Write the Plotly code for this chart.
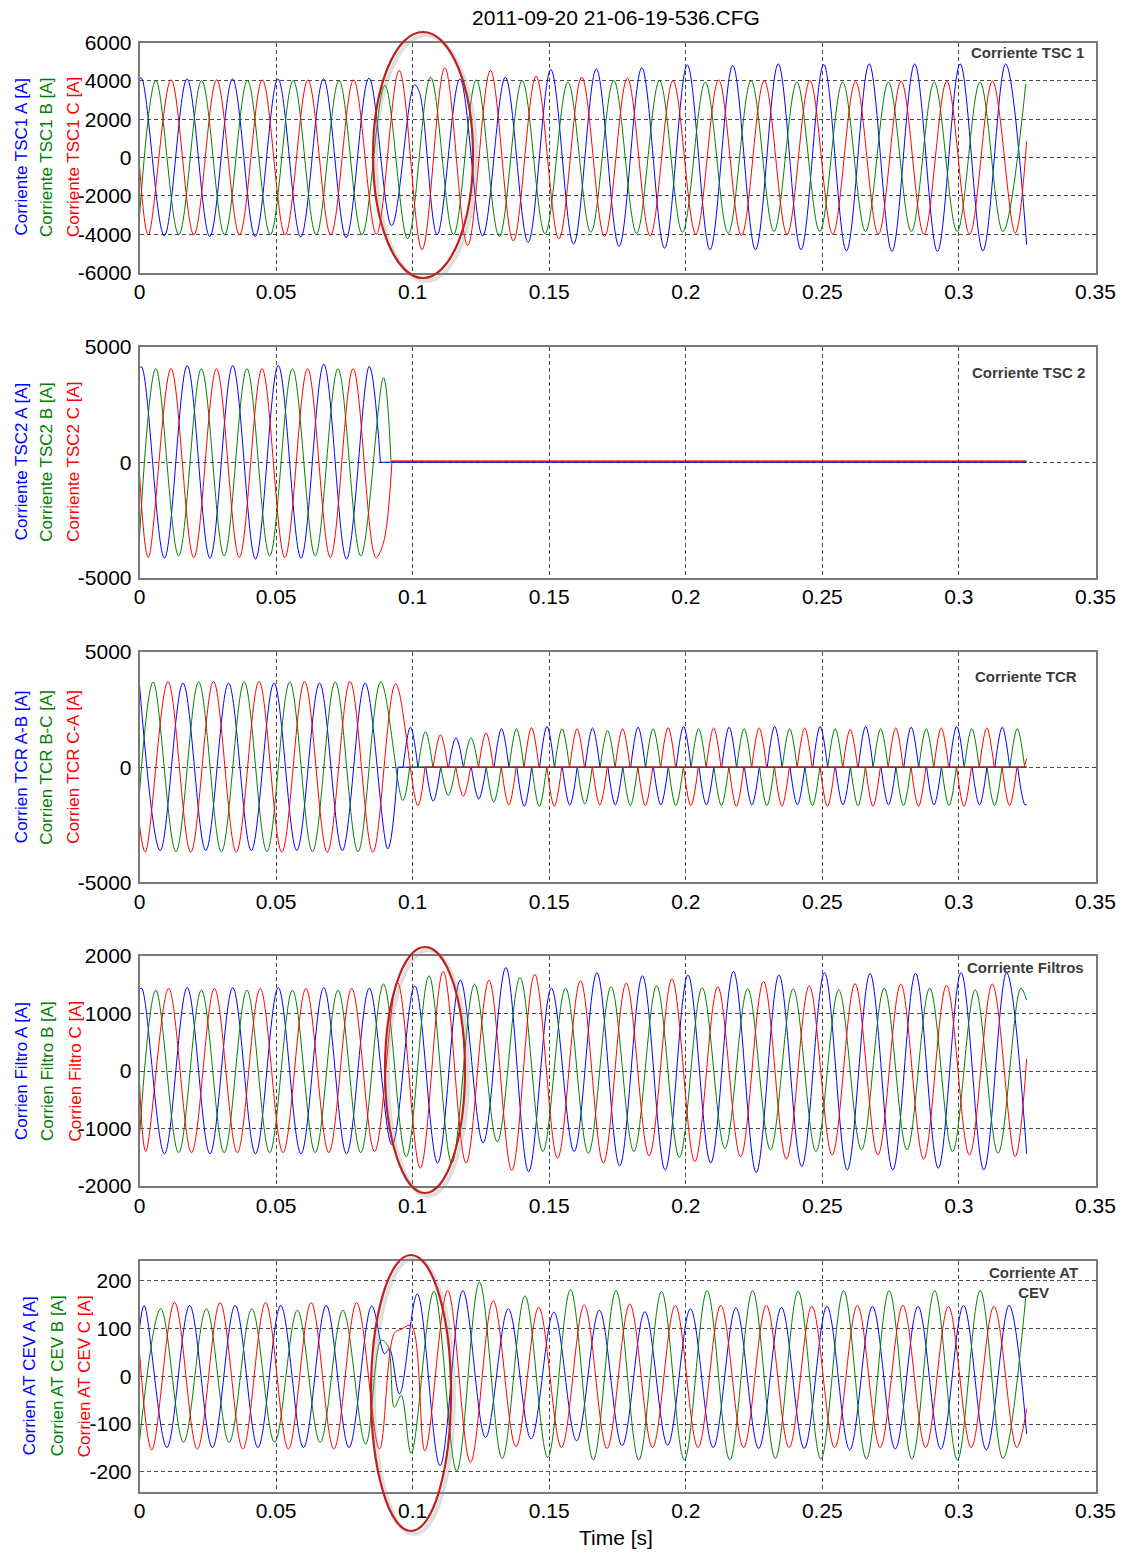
import plotly.graph_objects as go

# ------------------------------------------------------------------
# DATA (60 Hz waveforms are given
# as their successive half-cycle extrema, one value every half period)
# ------------------------------------------------------------------
T_END = 0.3248
X_TICKS = [0, 0.05, 0.1, 0.15, 0.2, 0.25, 0.3, 0.35]
X_TICK_TEXT = ["0", "0.05", "0.1", "0.15", "0.2", "0.25", "0.3", "0.35"]

# ---- Panel 1 : Corriente TSC 1 ----
P1_A_T0, P1_A_H, P1_A_START, P1_A_END = 0.00075, 0.008325, 4120, -4550
P1_A = [4140, -4090, 4100, -4120, 4100, -4120, 4100, -4150, 4100, -4170, 4140, -3550, 3790, -4030,
        4100, -4090, 4190, -4420, 4590, -4520, 4620, -4640, 4680, -4730, 4830, -4810, 4800, -4810,
        4880, -4810, 4850, -4870, 4880, -4900, 4880, -4900, 4880, -4870, 4880]
P1_A_XT, P1_A_XV = [0.1025], [3400]
P1_B_T0, P1_B_H, P1_B_START = 0.0060, 0.008381, -3080
P1_B = [4017, -4030, 4017, -4030, 4017, -4030, 4017, -4030, 4017, -4030, 3760, -4240, 4190, -4030,
        4050, -4120, 4017, -3980, 3930, -3900, 4017, -3950, 4017, -3900, 3930, -3950, 4017, -3860,
        3930, -3860, 3930, -3860, 3930, -3860, 3930, -3860, 3930, -3860, 3850]
P1_C_T0, P1_C_H, P1_C_START, P1_C_END = 0.0032, 0.008353, -400, 850
P1_C = [-4030, 4050, -4030, 4050, -4030, 4050, -4030, 4050, -4030, 4050, -4000, 4540, -4810, 4680,
        -4590, 4540, -4350, 4240, -4240, 4190, -4120, 4140, -4090, 4017, -4000, 4050, -4070, 4017,
        -4000, 4017, -4000, 3960, -4000, 3980, -4000, 3980, -4000, 3980, -3950]

# ---- Panel 2 : Corriente TSC 2 (switched off at ~0.09 s) ----
HALF = 1 / 120
P2_A_T0, P2_A_START, P2_A_OFF, P2_A_FLAT = 0.0008, 4100, 0.0882, 0
P2_A = [4130, -4160, 4200, -4160, 4200, -4200, 4200, -4160, 4250, -4200, 4160]
P2_B_T0, P2_B_START, P2_B_OFF, P2_B_FLAT = 0.0060, -3260, 0.0921, 20
P2_B = [4060, -4060, 4060, -4060, 4060, -4060, 4060, -4060, 4060, -4060, 3670]
P2_C_T0, P2_C_START, P2_C_OFF, P2_C_FLAT = 0.0032, -510, 0.0924, 60
P2_C = [-4130, 4060, -4130, 4060, -4130, 4060, -4130, 4060, -4130, 4060, -4130]
P2_C_XT, P2_C_XV = [0.0893], [-3500]

# ---- Panel 3 : Corriente TCR ----
P3_A_T0, P3_A_START, P3_A_OFF = 0.00759, 3580, 0.0946
P3_A = [-3620, 3650, -3620, 3650, -3620, 3650, -3620, 3650, -3620, 3650, -3550]
P3_B_T0, P3_B_START, P3_B_OFF = 0.0050, -1090, 0.0989
P3_B = [3700, -3670, 3700, -3670, 3700, -3670, 3700, -3670, 3700, -3670, 3700]
P3_B_XT, P3_B_XV = [0.0964], [-1450]
P3_C_T0, P3_C_START, P3_C_OFF = 0.0021, -2540, 0.1045
P3_C = [-3690, 3720, -3690, 3720, -3690, 3720, -3690, 3720, -3690, 3720, -3690, 3620]
P3_C_XT, P3_C_XV = [0.1019], [-1670]
# conduction lobes after the event (one lobe every half period)
LOBE_HALF_WIDTH = 0.0027
P3_A_LOBE_T0 = 0.0992
P3_A_LOBES = [1740, -1480, 1275, -1380, 1670, -1700, 1770, -1650, 1700, -1640, 1740, -1640, 1770, -1640,
              1740, -1640, 1770, -1640, 1770, -1640, 1770, -1640, 1740, -1640, 1770, -1640, 1740]
P3_A_TAIL_T, P3_A_TAIL_V = [0.3215, 0.3242, 0.3248], [0, -1640, -1620]
P3_B_LOBE_T0 = 0.1047
P3_B_LOBES = [1550, -1230, 1275, -1520, 1670, -1710, 1670, -1600, 1590, -1670, 1670, -1670, 1670, -1670,
              1670, -1670, 1670, -1670, 1670, -1670, 1670, -1670, 1670, -1670, 1670, -1670, 1670]
P3_C_LOBE_T0 = 0.1102
P3_C_LOBES = [1410, -1260, 1490, -1640, 1720, -1700, 1670, -1640, 1670, -1670, 1720, -1670, 1700, -1700,
              1700, -1700, 1700, -1700, 1640, -1700, 1700, -1700, 1700, -1700, 1700, -1670]
P3_C_TAIL_T, P3_C_TAIL_V = [0.3238, 0.3248], [0, 360]

# ---- Panel 4 : Corriente Filtros ----
P4_A_T0, P4_A_H, P4_A_START, P4_A_END = 0.0008, 0.008333, 1420, -1440
P4_A = [1440, -1440, 1450, -1440, 1450, -1440, 1450, -1440, 1450, -1440, 1440, -1285, 1480, -1600,
        1580, -1250, 1800, -1750, 1440, -1400, 1710, -1650, 1655, -1720, 1670, -1600, 1730, -1765,
        1670, -1660, 1710, -1720, 1695, -1720, 1700, -1690, 1710, -1720, 1710]
P4_B_T0, P4_B_H, P4_B_START, P4_B_END = 0.0060, 0.008333, -1140, 1233
P4_B = [1405, -1420, 1405, -1420, 1405, -1420, 1405, -1420, 1405, -1420, 1510, -1490, 1655, -1600,
        1510, -1230, 1625, -1400, 1440, -1430, 1464, -1400, 1480, -1500, 1450, -1343, 1430, -1370,
        1430, -1400, 1410, -1370, 1440, -1370, 1440, -1400, 1410, -1430, 1440]
P4_C_T0, P4_C_H, P4_C_START, P4_C_END = 0.0023, 0.008376, -190, 210
P4_C = [-1400, 1435, -1420, 1435, -1420, 1435, -1420, 1435, -1420, 1435, -1400, 1540, -1690, 1730,
        -1600, 1580, -1730, 1680, -1515, 1570, -1600, 1527, -1475, 1600, -1575, 1464, -1490, 1556,
        -1530, 1480, -1460, 1520, -1460, 1510, -1530, 1490, -1460, 1510, -1490]

# ---- Panel 5 : Corriente AT CEV ----
P5_A_T0, P5_A_H, P5_A_START, P5_A_END = 0.0017, 0.008333, 100, -121
P5_A = [148, -149, 148, -149, 148, -149, 148, -149, 148, -149, 147, None, 172, -187, 179, -128, 141,
        -131, 134, -135, 138, -145, 135, -144, 141, -149, 143, -151, 144, -151, 146, -154, 146, -152,
        146, -152, 148, -154, 148]
P5_A_XT, P5_A_XV = [0.0897, 0.0915, 0.0952], [47, 57, -37]
P5_B_T0, P5_B_H, P5_B_START = 0.0078, 0.008333, -135
P5_B = [141, -138, 141, -138, 141, -138, 138, -138, 138, -142, None, -161, 178, -198, 197, -172, 168,
        -170, 181, -175, 179, -175, 177, -175, 179, -175, 179, -172, 178, -173, 179, -173, 179, -173,
        179, -175, 179, -172, 165]
P5_B_XT, P5_B_XV = [0.0885, 0.0909, 0.0933, 0.0958], [75, 64, -65, -40]
P5_C_T0, P5_C_H, P5_C_START, P5_C_END = 0.0045, 0.008333, 50, -68
P5_C = [-154, 154, -152, 154, -152, 154, -152, 154, -152, 154, -152, None, -156, 179, -180, 158, -147,
        144, -149, 149, -151, 151, -149, 148, -149, 148, -149, 148, -149, 146, -149, 148, -149, 148,
        -149, 146, -149, 146, -149]
P5_C_XT, P5_C_XV = [0.0933, 0.0958, 0.0995], [90, 98, 106]

Y_RANGES = [(-6000, 6000), (-5000, 5000), (-5000, 5000), (-2000, 2000), (-241, 241)]
Y_TICKS = [[-6000, -4000, -2000, 0, 2000, 4000, 6000], [-5000, 0, 5000], [-5000, 0, 5000],
           [-2000, -1000, 0, 1000, 2000], [-200, -100, 0, 100, 200]]
Y_LABELS = [["Corriente TSC1 A [A]", "Corriente TSC1 B [A]", "Corriente TSC1 C [A]"],
            ["Corriente TSC2 A [A]", "Corriente TSC2 B [A]", "Corriente TSC2 C [A]"],
            ["Corrien TCR A-B [A]", "Corrien TCR B-C [A]", "Corrien TCR C-A [A]"],
            ["Corrien Filtro A [A]", "Corrien Filtro B [A]", "Corrien Filtro C [A]"],
            ["Corrien AT CEV A [A]", "Corrien AT CEV B [A]", "Corrien AT CEV C [A]"]]
PANEL_TITLES = ["Corriente TSC 1", "Corriente TSC 2", "Corriente TCR", "Corriente Filtros",
                "Corriente AT<br>CEV"]
TITLE = "2011-09-20 21-06-19-536.CFG"
COLORS = ["#0000ff", "#008000", "#ff0000"]

# ------------------------------------------------------------------
# LAYOUT (pixel geometry of the page)
# ------------------------------------------------------------------
W_FIG, H_FIG = 1123, 1553
PLOT_X = (139.5, 1095.5)
PANEL_ROWS = [(42.5, 272.5), (347, 577.5), (652, 882.3), (956, 1186), (1261, 1491.5)]
YLAB_X = [[21, 46.5, 73.5], [21, 46.5, 73.5], [21, 46.5, 73.5], [21, 47, 74.5], [29, 57, 84]]
PT_POS = [(1027, 52), (1028, 372), (1026, 676), (1025, 967), (1033, 1282)]
ELLIPSES = [(373, 32, 473, 278), (385, 947, 465, 1193), (371, 1255, 451, 1531)]
FONT = "Liberation Sans, Arial, Helvetica, sans-serif"


def px(x):
    return x / W_FIG


def py(y):
    return 1 - y / H_FIG


def wave(t0, h, peaks, start=None, end=None, xt=(), xv=(), off=None):
    pts = []
    if start is not None:
        pts.append((0.0, start))
    for k, v in enumerate(peaks):
        if v is None:
            continue
        pts.append((t0 + k * h, v))
    pts += list(zip(xt, xv))
    if end is not None:
        pts.append((T_END, end))
    if off is not None:
        pts.append((off, 0))
    pts.sort()
    return [p[0] for p in pts], [p[1] for p in pts]


def lobes(t0, h, vals, w, tail_t=(), tail_v=()):
    xs, ys = [], []
    for k, v in enumerate(vals):
        t = t0 + k * h
        xs += [t - w, t, t + w, None]
        ys += [0, v, 0, None]
    xs += list(tail_t) + [None]
    ys += list(tail_v) + [None]
    return xs, ys


fig = go.Figure()


def add(panel, color, xy, spline=True):
    ax = "" if panel == 1 else str(panel)
    fig.add_trace(go.Scatter(
        x=xy[0], y=xy[1], mode="lines", showlegend=False, hoverinfo="skip",
        connectgaps=False,
        line=dict(color=color, width=1, shape="spline" if spline else "linear", smoothing=1),
        xaxis="x" + ax, yaxis="y" + ax))


# Panel 1
add(1, COLORS[0], wave(P1_A_T0, P1_A_H, P1_A, P1_A_START, P1_A_END, P1_A_XT, P1_A_XV))
add(1, COLORS[1], wave(P1_B_T0, P1_B_H, P1_B, P1_B_START))
add(1, COLORS[2], wave(P1_C_T0, P1_C_H, P1_C, P1_C_START, P1_C_END))

# Panel 2 (flat tails drawn red, green, then blue on top)
add(2, COLORS[2], ([P2_C_OFF, T_END], [P2_C_FLAT, P2_C_FLAT]), spline=False)
add(2, COLORS[1], ([P2_B_OFF, T_END], [P2_B_FLAT, P2_B_FLAT]), spline=False)
add(2, COLORS[0], ([P2_A_OFF, T_END], [P2_A_FLAT, P2_A_FLAT]), spline=False)
add(2, COLORS[0], wave(P2_A_T0, HALF, P2_A, P2_A_START, off=P2_A_OFF))
add(2, COLORS[1], wave(P2_B_T0, HALF, P2_B, P2_B_START, off=P2_B_OFF))
add(2, COLORS[2], wave(P2_C_T0, HALF, P2_C, P2_C_START, xt=P2_C_XT, xv=P2_C_XV, off=P2_C_OFF))

# Panel 3
add(3, COLORS[0], wave(P3_A_T0, HALF, P3_A, P3_A_START, off=P3_A_OFF))
add(3, COLORS[0], ([P3_A_OFF, T_END], [0, 0]), spline=False)
add(3, COLORS[0], lobes(P3_A_LOBE_T0, HALF, P3_A_LOBES, LOBE_HALF_WIDTH, P3_A_TAIL_T, P3_A_TAIL_V))
add(3, COLORS[1], wave(P3_B_T0, HALF, P3_B, P3_B_START, xt=P3_B_XT, xv=P3_B_XV, off=P3_B_OFF))
add(3, COLORS[1], ([P3_B_OFF, T_END], [0, 0]), spline=False)
add(3, COLORS[1], lobes(P3_B_LOBE_T0, HALF, P3_B_LOBES, LOBE_HALF_WIDTH))
add(3, COLORS[2], wave(P3_C_T0, HALF, P3_C, P3_C_START, xt=P3_C_XT, xv=P3_C_XV, off=P3_C_OFF))
add(3, COLORS[2], ([P3_C_OFF, T_END], [0, 0]), spline=False)
add(3, COLORS[2], lobes(P3_C_LOBE_T0, HALF, P3_C_LOBES, LOBE_HALF_WIDTH, P3_C_TAIL_T, P3_C_TAIL_V))

# Panel 4
add(4, COLORS[0], wave(P4_A_T0, P4_A_H, P4_A, P4_A_START, P4_A_END))
add(4, COLORS[1], wave(P4_B_T0, P4_B_H, P4_B, P4_B_START, P4_B_END))
add(4, COLORS[2], wave(P4_C_T0, P4_C_H, P4_C, P4_C_START, P4_C_END))

# Panel 5
add(5, COLORS[0], wave(P5_A_T0, P5_A_H, P5_A, P5_A_START, P5_A_END, P5_A_XT, P5_A_XV))
add(5, COLORS[1], wave(P5_B_T0, P5_B_H, P5_B, P5_B_START, None, P5_B_XT, P5_B_XV))
add(5, COLORS[2], wave(P5_C_T0, P5_C_H, P5_C, P5_C_START, P5_C_END, P5_C_XT, P5_C_XV))

layout = dict(
    width=W_FIG, height=H_FIG, autosize=False, margin=dict(l=0, r=0, t=0, b=0, pad=0),
    paper_bgcolor="white", plot_bgcolor="white",
    font=dict(family=FONT, size=21, color="black"),
    annotations=[], shapes=[],
)

for i in range(5):
    ax = "" if i == 0 else str(i + 1)
    top, bot = PANEL_ROWS[i]
    layout["xaxis" + ax] = dict(
        domain=[px(PLOT_X[0]), px(PLOT_X[1])], range=[0, 0.35], anchor="y" + ax,
        automargin=False,
        tickmode="array", tickvals=X_TICKS, ticktext=X_TICK_TEXT,
        showgrid=True, gridcolor="#4a4a4a", griddash="4px,3px", gridwidth=1,
        zeroline=False, showline=True, mirror=True, linecolor="#7a7a7a", linewidth=1.5,
        ticks="", ticklabelstandoff=0, tickfont=dict(size=21, family=FONT, color="black"))
    ticks = Y_TICKS[i]
    layout["yaxis" + ax] = dict(
        domain=[py(bot), py(top)], range=list(Y_RANGES[i]), anchor="x" + ax,
        automargin=False,
        tickmode="array", tickvals=ticks, ticktext=[str(v) for v in ticks],
        showgrid=True, gridcolor="#4a4a4a", griddash="4px,3px", gridwidth=1,
        zeroline=False, showline=True, mirror=True, linecolor="#7a7a7a", linewidth=1.5,
        ticks="", ticklabelstandoff=2, tickfont=dict(size=21, family=FONT, color="black"))
    yc = (top + bot) / 2
    for j in range(3):
        layout["annotations"].append(dict(
            text=Y_LABELS[i][j], x=px(YLAB_X[i][j]), y=py(yc), xref="paper", yref="paper",
            xanchor="center", yanchor="middle", textangle=-90, showarrow=False,
            font=dict(family=FONT, size=17, color=COLORS[j])))
    layout["annotations"].append(dict(
        text="<b>" + PANEL_TITLES[i] + "</b>", x=px(PT_POS[i][0]), y=py(PT_POS[i][1]),
        xref="paper", yref="paper", xanchor="center", yanchor="middle", showarrow=False,
        font=dict(family=FONT, size=15, color="#3c3c3c")))

layout["annotations"].append(dict(
    text=TITLE, x=px(616), y=py(18), xref="paper", yref="paper", xanchor="center",
    yanchor="middle", showarrow=False, font=dict(family=FONT, size=21, color="black")))
layout["annotations"].append(dict(
    text="Time [s]", x=px(616), y=py(1537), xref="paper", yref="paper", xanchor="center",
    yanchor="middle", showarrow=False, font=dict(family=FONT, size=21, color="black")))

for (x0, y0, x1, y1) in ELLIPSES:
    layout["shapes"].append(dict(
        type="circle", xref="paper", yref="paper", x0=px(x0 + 3), x1=px(x1 + 3),
        y0=py(y1 + 3), y1=py(y0 + 3), line=dict(color="rgba(150,150,150,0.3)", width=4)))
    layout["shapes"].append(dict(
        type="circle", xref="paper", yref="paper", x0=px(x0), x1=px(x1),
        y0=py(y1), y1=py(y0), line=dict(color="#c0201e", width=2.2)))

fig.update_layout(**layout)
fig.write_html("out.html", config={"displayModeBar": False},
               post_script="document.body.style.margin='0';")
